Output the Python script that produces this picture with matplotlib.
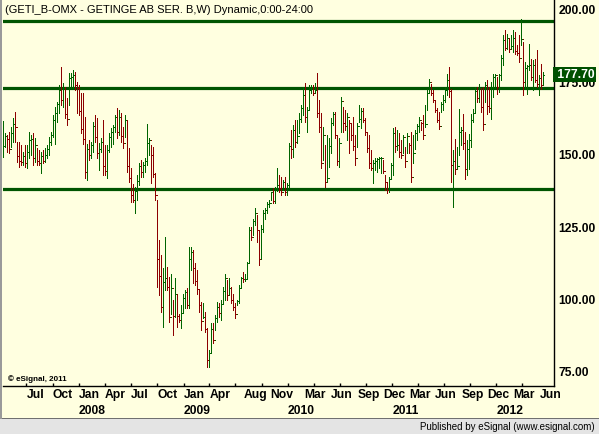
import numpy as np
import pandas as pd
import matplotlib
matplotlib.use("Agg")
import matplotlib.pyplot as plt
import matplotlib.dates as mdates
from matplotlib.patches import Rectangle

# weekly bars GETI_B, Monday of each week starting 2007-04-09
start_date = "2007-04-09"

high = [
    161.5, 157.4, 156.9, 158.0, 159.7, 162.6, 164.9, 154.5, 154.5, 153.3,
    151.1, 153.3, 153.3, 158.0, 156.8, 157.4, 155.7, 152.2, 151.6, 151.1,
    151.6, 152.2, 153.3, 156.3, 158.0, 163.7, 166.6, 168.4, 174.1, 180.4,
    174.7, 173.5, 169.5, 178.1, 178.1, 179.3, 178.7, 175.2, 174.1, 171.2,
    171.2, 163.2, 153.9, 155.1, 154.5, 161.4, 163.7, 162.6, 154.0, 155.7,
    162.0, 153.3, 153.3, 157.4, 159.1, 160.3, 163.7, 166.0, 165.5, 164.3,
    159.7, 163.7, 162.0, 152.2, 145.3, 140.0, 138.9, 143.0, 147.0, 148.2,
    147.6, 149.0, 160.8, 155.7, 153.4, 152.8, 143.6, 134.4, 120.6, 115.4,
    110.8, 121.7, 111.3, 107.9, 109.0, 99.8, 107.3, 102.1, 95.2, 98.1,
    102.1, 103.3, 103.9, 118.3, 118.3, 117.1, 112.5, 110.2, 103.3, 99.3,
    98.7, 95.8, 90.1, 82.6, 91.8, 91.8, 94.7, 99.3, 98.7, 99.8,
    104.4, 109.0, 106.7, 107.3, 104.4, 102.1, 98.7, 99.8, 105.0, 107.9,
    109.6, 109.0, 113.1, 125.2, 125.2, 128.0, 131.5, 129.2, 124.0, 125.7,
    130.9, 131.5, 133.8, 134.4, 137.2, 138.4, 139.0, 145.3, 143.0, 142.5,
    141.3, 142.5, 140.2, 154.0, 158.6, 160.3, 162.0, 162.0, 164.3, 167.2,
    173.5, 174.7, 166.6, 174.1, 174.1, 174.1, 174.7, 178.1, 168.9, 164.3,
    159.7, 153.4, 156.8, 155.7, 162.6, 164.9, 164.9, 156.8, 155.7, 170.1,
    166.6, 165.5, 164.3, 162.0, 160.9, 163.2, 156.8, 160.9, 167.2, 166.0,
    166.0, 162.6, 157.4, 156.8, 151.7, 148.2, 148.8, 148.8, 149.4, 149.4,
    148.2, 143.0, 140.7, 142.5, 147.1, 159.1, 159.7, 158.6, 157.4, 155.1,
    156.8, 152.8, 157.4, 154.0, 158.0, 157.0, 158.5, 160.7, 163.0, 161.3,
    163.6, 167.1, 172.8, 176.3, 174.6, 172.3, 168.8, 166.0, 164.8, 168.2,
    170.5, 173.4, 178.0, 180.3, 172.8, 151.5, 155.6, 152.7, 165.9, 159.6,
    164.2, 157.9, 155.0, 157.3, 164.2, 165.9, 173.4, 173.4, 174.6, 172.8,
    173.4, 175.1, 175.7, 173.4, 175.1, 178.0, 178.0, 176.9, 178.0, 184.3,
    191.2, 193.0, 191.8, 190.1, 191.2, 193.0, 192.4, 187.8, 191.2, 196.8,
    188.9, 182.0, 180.9, 188.4, 183.2, 182.6, 183.2, 186.1, 177.4, 181.5,
    178.6,
]

low = [
    149.4, 152.8, 151.1, 150.5, 152.8, 154.5, 154.5, 147.6, 145.9, 146.5,
    146.5, 145.9, 145.3, 148.8, 150.0, 146.5, 147.6, 146.5, 146.5, 143.6,
    147.0, 147.6, 148.8, 149.9, 153.3, 156.3, 153.9, 161.4, 164.3, 167.2,
    166.6, 162.6, 160.2, 167.2, 172.9, 172.9, 172.4, 164.3, 163.7, 157.4,
    153.9, 141.9, 141.3, 148.2, 148.8, 151.1, 154.5, 148.8, 144.7, 151.1,
    143.0, 143.0, 141.9, 151.1, 152.8, 153.9, 158.0, 155.7, 156.8, 154.5,
    152.2, 156.3, 144.2, 140.7, 133.8, 133.8, 129.8, 134.4, 139.5, 142.4,
    142.4, 144.0, 146.5, 150.0, 140.1, 142.4, 134.4, 104.5, 101.6, 95.8,
    90.6, 103.3, 103.3, 92.4, 95.2, 87.8, 94.1, 90.6, 92.4, 90.1,
    95.8, 97.0, 97.0, 97.0, 110.2, 105.6, 105.0, 102.1, 95.8, 89.5,
    93.5, 88.9, 76.8, 76.8, 81.4, 84.9, 89.5, 92.4, 94.1, 93.0,
    98.7, 99.8, 99.8, 102.1, 98.7, 96.4, 93.5, 98.1, 98.7, 104.4,
    106.2, 106.5, 107.3, 113.1, 120.6, 122.3, 125.7, 120.0, 111.9, 114.2,
    123.5, 128.0, 129.8, 132.1, 134.4, 133.2, 133.2, 137.5, 137.3, 136.1,
    137.9, 136.1, 136.1, 138.4, 148.8, 149.4, 152.8, 154.0, 157.4, 161.4,
    163.7, 161.4, 158.0, 165.5, 171.2, 170.7, 171.8, 163.2, 158.0, 145.3,
    148.2, 139.0, 140.7, 145.9, 150.5, 160.3, 155.7, 146.5, 145.9, 158.0,
    158.0, 158.6, 155.1, 150.5, 155.1, 151.7, 146.5, 152.8, 161.4, 159.1,
    161.4, 156.8, 151.1, 145.3, 144.8, 140.2, 144.8, 144.2, 145.3, 143.6,
    143.6, 137.9, 136.7, 137.3, 141.9, 143.0, 151.1, 151.7, 149.4, 148.8,
    150.5, 145.9, 150.5, 150.5, 140.7, 147.0, 152.0, 155.0, 157.9, 158.4,
    155.6, 159.6, 165.3, 171.7, 170.5, 168.2, 164.8, 161.3, 159.0, 164.8,
    165.3, 168.2, 170.5, 169.9, 140.6, 132.0, 143.5, 145.2, 149.8, 153.3,
    152.1, 141.7, 142.9, 145.2, 152.7, 161.3, 164.8, 168.2, 168.2, 164.8,
    158.4, 168.2, 164.2, 164.8, 162.5, 170.0, 172.8, 171.1, 171.7, 175.7,
    180.9, 186.1, 186.6, 185.5, 186.6, 185.5, 184.9, 184.3, 182.0, 187.8,
    170.5, 172.8, 171.1, 179.2, 175.7, 172.3, 175.1, 173.4, 170.5, 172.8,
    174.0,
]

close = [
    153.0, 156.5, 155.5, 152.0, 157.5, 160.5, 159.5, 149.5, 148.0, 147.5,
    149.5, 147.0, 151.0, 155.0, 155.5, 149.0, 153.5, 148.0, 147.0, 149.5,
    148.0, 150.0, 152.0, 154.5, 157.0, 162.0, 164.5, 167.5, 172.5, 169.0,
    173.0, 164.0, 162.5, 176.5, 177.0, 177.5, 174.0, 173.0, 165.0, 159.0,
    155.5, 144.0, 152.0, 150.0, 153.5, 160.0, 156.0, 150.5, 152.0, 154.5,
    146.0, 144.5, 151.5, 156.0, 158.0, 159.5, 163.0, 158.0, 163.0, 156.5,
    154.0, 162.0, 146.0, 142.0, 136.0, 134.5, 137.5, 141.0, 146.0, 144.0,
    146.5, 148.0, 154.0, 155.0, 150.0, 143.5, 136.0, 114.0, 108.0, 97.5,
    106.0, 107.5, 104.5, 94.0, 104.0, 94.5, 102.0, 94.5, 93.0, 95.5,
    100.5, 102.5, 98.0, 114.0, 116.5, 111.0, 106.5, 103.5, 98.0, 92.5,
    94.0, 90.0, 79.0, 81.5, 90.0, 86.0, 93.5, 97.5, 95.5, 98.5,
    103.0, 107.5, 101.5, 104.0, 100.0, 97.5, 95.0, 99.5, 104.0, 107.5,
    107.0, 107.0, 112.5, 124.0, 121.5, 127.0, 130.0, 124.0, 114.0, 124.5,
    130.0, 131.0, 133.0, 133.5, 137.0, 134.0, 138.5, 139.5, 138.5, 137.0,
    140.5, 137.0, 139.5, 153.0, 152.0, 158.5, 154.5, 156.5, 162.5, 166.0,
    170.5, 163.0, 165.5, 172.5, 173.5, 171.5, 172.5, 164.5, 159.5, 147.0,
    157.0, 140.5, 142.0, 153.0, 161.0, 164.0, 157.0, 148.0, 154.0, 168.5,
    161.0, 160.0, 163.0, 161.0, 157.0, 153.0, 149.0, 160.0, 162.5, 165.0,
    162.0, 158.0, 152.5, 147.0, 145.5, 147.0, 148.0, 148.5, 149.0, 149.0,
    144.5, 140.5, 138.0, 141.5, 146.5, 157.5, 153.0, 153.5, 151.0, 150.0,
    156.0, 148.0, 156.5, 153.5, 142.5, 150.5, 157.5, 160.0, 162.0, 161.0,
    157.0, 160.5, 171.5, 175.0, 171.5, 169.0, 165.5, 162.0, 160.0, 167.5,
    169.0, 172.5, 176.0, 172.0, 146.5, 148.0, 145.0, 146.0, 158.0, 158.5,
    154.0, 145.0, 152.0, 155.0, 162.0, 164.5, 172.0, 169.5, 173.0, 166.5,
    160.5, 174.0, 167.0, 166.0, 173.5, 177.0, 177.5, 173.5, 177.5, 183.5,
    189.5, 187.0, 190.5, 186.5, 187.5, 190.5, 186.0, 185.0, 183.5, 190.0,
    175.0, 180.0, 180.5, 181.0, 177.0, 181.0, 176.0, 174.5, 176.5, 174.0,
    177.7,
]

# drawn trend lines (resistance / support)
hlines_levels = [196.3, 173.0, 138.2]

y_ticks = [200, 175, 150, 125, 100, 75]

# month labels (left aligned at month start) and year labels
month_labels = [
    ("2007-07-01", "Jul"), ("2007-10-01", "Oct"), ("2008-01-01", "Jan"),
    ("2008-04-01", "Apr"), ("2008-07-01", "Jul"), ("2008-10-01", "Oct"),
    ("2009-01-01", "Jan"), ("2009-04-01", "Apr"), ("2009-08-01", "Aug"),
    ("2009-11-01", "Nov"), ("2010-03-01", "Mar"), ("2010-06-01", "Jun"),
    ("2010-09-01", "Sep"), ("2010-12-01", "Dec"), ("2011-03-01", "Mar"),
    ("2011-06-01", "Jun"), ("2011-09-01", "Sep"), ("2011-12-01", "Dec"),
    ("2012-03-01", "Mar"), ("2012-06-01", "Jun"),
]
year_labels = [
    ("2008-01-01", "2008"), ("2009-01-01", "2009"), ("2010-01-01", "2010"),
    ("2011-01-01", "2011"), ("2012-01-01", "2012"),
]

title = "(GETI_B-OMX - GETINGE AB SER. B,W) Dynamic,0:00-24:00"
last_label = "177.70"

BG = "#ffffe0"
UP = "#006400"
DOWN = "#8c0000"
LINE = "#005500"

W, H = 599, 434
fig = plt.figure(figsize=(W / 100, H / 100), dpi=100)
fig.patch.set_facecolor(BG)

# plot area in pixels: x 3..554, y 0..386 (from top)
ax = fig.add_axes([3 / W, (H - 386) / H, 551 / W, 386 / H])
ax.set_facecolor(BG)

dates = pd.date_range(start_date, periods=len(close), freq="7D")
x = mdates.date2num(dates)
high = np.array(high)
low = np.array(low)
close = np.array(close)
opn = np.r_[close[0], close[:-1]]  # weekly open ~ previous close
cols = np.where(close >= opn, UP, DOWN)

lw = 0.72  # one pixel
ax.vlines(x, low, high, colors=cols, linewidth=lw, antialiased=False, zorder=3)
ax.hlines(opn, x - 3.5, x, colors=cols, linewidth=lw, antialiased=False, zorder=3)
ax.hlines(close, x, x + 3.5, colors=cols, linewidth=lw, antialiased=False, zorder=3)

for lv in hlines_levels:
    ax.axhline(lv, color=LINE, linewidth=2.3, zorder=2)

# 1 px = 3.5 days, Jan 1 2008 sits at pixel 79
x0 = mdates.date2num(pd.Timestamp("2008-01-01"))
ax.set_xlim(x0 + (3 - 79) * 3.5, x0 + (554 - 79) * 3.5)
# 1 px = 1/2.896 price units, 200 sits at pixel 10
ax.set_ylim(200 - (386 - 10) / 2.896, 200 + 10 / 2.896)

for s in ["top", "left"]:
    ax.spines[s].set_visible(False)
for s in ["right", "bottom"]:
    ax.spines[s].set_color("black")
    ax.spines[s].set_linewidth(1.0)

ax.yaxis.tick_right()
ax.set_yticks(y_ticks)
ax.set_yticklabels([f"{v:.2f}" for v in y_ticks])
ax.tick_params(axis="y", length=0, pad=3)
for t in ax.get_yticklabels():
    t.set_fontfamily("Liberation Sans")
    t.set_fontweight("bold")
    t.set_fontsize(8.7)

# quarterly tick marks along the bottom, no tick labels
qt = pd.date_range("2007-07-01", "2012-06-30", freq="QS")
ax.set_xticks(mdates.date2num(qt))
ax.set_xticklabels([])
ax.tick_params(axis="x", direction="in", length=2.5, width=1, color="black")

font = dict(family="Liberation Sans", fontweight="bold", fontsize=8.7)
for d, lab in month_labels:
    ax.text(mdates.date2num(pd.Timestamp(d)), -9 / 386, lab, transform=ax.get_xaxis_transform(),
            ha="left", va="center", clip_on=False, **font)
for d, lab in year_labels:
    ax.text(mdates.date2num(pd.Timestamp(d)), -25 / 386, lab, transform=ax.get_xaxis_transform(),
            ha="left", va="center", clip_on=False, **font)

# last price box
ax.text(1.0, close[-1], " " + last_label, transform=ax.get_yaxis_transform(), ha="left", va="center",
        color="white", family="Liberation Sans", fontweight="bold", fontsize=8.7, clip_on=False,
        zorder=10, bbox=dict(boxstyle="square,pad=0.12", fc="#005000", ec="none"))

fig.text(5 / W, 1 - 10 / H, title, ha="left", va="center", family="Liberation Sans", fontsize=8)
ax.text(5 / 551, 7 / 386, "\u00a9 eSignal, 2011", transform=ax.transAxes, ha="left", va="center",
        family="Liberation Sans", fontweight="bold", fontsize=5.8)

# grey footer strip and left border
fig.add_artist(Rectangle((0, 0), 1, 15 / H, transform=fig.transFigure, fc="#e4e4e4", ec="none"))
fig.add_artist(Rectangle((0, 15 / H), 1, 1.5 / H, transform=fig.transFigure, fc="#707070", ec="none"))
fig.add_artist(Rectangle((0, 15 / H), 2 / W, 1 - 15 / H, transform=fig.transFigure, fc="#9a9a9a", ec="none"))
fig.text(595 / W, 7 / H, "Published by eSignal (www.esignal.com)", ha="right", va="center",
         family="Liberation Sans", fontsize=7)

fig.savefig("out.png", dpi=100, facecolor=BG)
